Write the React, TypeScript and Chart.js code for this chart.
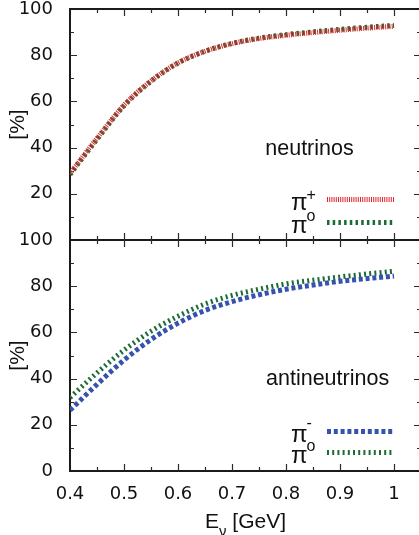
import { useEffect, useRef } from 'react';
import { Chart, registerables } from 'chart.js';

Chart.register(...registerables);

// ---- data ----
const energies = [0.4, 0.45, 0.5, 0.55, 0.6, 0.65, 0.7, 0.75, 0.8, 0.85, 0.9, 0.95, 1.0];
const nuPiPlus = [28.9, 44, 58.4, 68.9, 76.7, 81.7, 85, 87.2, 88.6, 89.8, 90.8, 91.7, 92.5];
const nuPiZero = [28.4, 43.6, 58.1, 68.7, 76.6, 81.7, 85.1, 87.4, 88.9, 90.1, 91.2, 92.1, 92.9];
const antiPiMinus = [26.3, 37.5, 48, 56.9, 64, 69.5, 73.3, 76.3, 78.7, 80.5, 82.1, 83.3, 84.4];
const antiPiZero = [31.8, 42.5, 52.3, 60.5, 67, 72.3, 76, 78.7, 81, 82.6, 84, 85.3, 86.5];

const xTickValues = [0.4, 0.5, 0.6, 0.7, 0.8, 0.9, 1.0];
const xTickLabels = ['0.4', '0.5', '0.6', '0.7', '0.8', '0.9', '1'];
const xMinorTicks = [0.45, 0.55, 0.65, 0.75, 0.85, 0.95];
const yTickValues = [0, 20, 40, 60, 80, 100];
const yTickLabels = ['0', '20', '40', '60', '80', '100'];
const yMinorTicks = [10, 30, 50, 70, 90];

const panelNames = ['neutrinos', 'antineutrinos'];
const seriesSymbol = ['π', 'π', 'π', 'π'];
const seriesSup = ['+', 'o', '-', 'o'];

const TEXT_FONT = 'Liberation Sans, Arial, sans-serif';
const TICK_FONT = 'DejaVu Sans, sans-serif';

const toPoints = (ys: number[]) => energies.map((x, i) => ({ x, y: ys[i] }));

const framePlugin = {
  id: 'frame',
  beforeDatasetsDraw(chart: any) {
    const { ctx, chartArea } = chart;
    const xs = chart.scales.x;
    const panels = [chart.scales.yTop, chart.scales.yBot];
    const L = chartArea.left;
    const R = chartArea.right;
    ctx.save();
    ctx.strokeStyle = '#1a1a1a';
    ctx.lineWidth = 2;
    ctx.beginPath();
    ctx.moveTo(L, chartArea.top - 1);
    ctx.lineTo(L, chartArea.bottom + 1);
    const hys = [panels[0].top, panels[0].bottom, panels[1].bottom];
    for (const y of hys) {
      ctx.moveTo(L - 1, y);
      ctx.lineTo(R, y);
    }
    ctx.stroke();

    ctx.lineWidth = 1.2;
    ctx.strokeStyle = '#2a2a2a';
    ctx.beginPath();
    const hLines = [
      { y: panels[0].top, dirs: [1] },
      { y: panels[0].bottom, dirs: [-1, 1] },
      { y: panels[1].bottom, dirs: [-1] },
    ];
    const xt = (v: number, len: number) => {
      const px = Math.round(xs.getPixelForValue(v)) + 0.5;
      for (const h of hLines) {
        for (const d of h.dirs) {
          ctx.moveTo(px, h.y);
          ctx.lineTo(px, h.y + d * len);
        }
      }
    };
    xTickValues.forEach((v) => { if (v > xs.min) xt(v, 7); });
    xMinorTicks.forEach((v) => xt(v, 4));

    for (const p of panels) {
      const yt = (v: number, len: number) => {
        const py = Math.round(p.getPixelForValue(v)) + 0.5;
        ctx.moveTo(L, py);
        ctx.lineTo(L + len, py);
        ctx.moveTo(R, py);
        ctx.lineTo(R - len, py);
      };
      yTickValues.forEach((v) => { if (v > 0 && v < 100) yt(v, 7); });
      yMinorTicks.forEach((v) => yt(v, 4));
    }
    ctx.stroke();
    ctx.restore();
  },
  afterDraw(chart: any) {
    const { ctx, chartArea } = chart;
    const xs = chart.scales.x;
    const panels = [chart.scales.yTop, chart.scales.yBot];
    ctx.save();
    ctx.fillStyle = '#111';

    // panel names
    const namePos = [
      { x: 0.8435, y: 36.8 },
      { x: 0.877, y: 37.2 },
    ];
    ctx.font = `21.5px ${TEXT_FONT}`;
    ctx.textAlign = 'center';
    ctx.textBaseline = 'alphabetic';
    panelNames.forEach((name, i) => {
      ctx.fillText(name, xs.getPixelForValue(namePos[i].x), panels[i].getPixelForValue(namePos[i].y));
    });

    // legends
    const legendRows = [
      { ds: 0, panel: 0, y: 17.6, supDy: 0 },
      { ds: 1, panel: 0, y: 7.9, supDy: -2 },
      { ds: 2, panel: 1, y: 17.4, supDy: -4 },
      { ds: 3, panel: 1, y: 8.1, supDy: -2 },
    ];
    const x0 = Math.round(xs.getPixelForValue(0.875));
    const x1 = Math.round(xs.getPixelForValue(1.0));
    legendRows.forEach((row) => {
      const ds = chart.data.datasets[row.ds];
      const ly = Math.round(panels[row.panel].getPixelForValue(row.y)) + 0.5;
      ctx.save();
      ctx.strokeStyle = ds.borderColor;
      ctx.lineWidth = ds.borderWidth;
      ctx.setLineDash(ds.borderDash || []);
      ctx.lineCap = 'butt';
      ctx.beginPath();
      ctx.moveTo(x0, ly);
      ctx.lineTo(x1, ly);
      ctx.stroke();
      ctx.restore();

      ctx.textAlign = 'left';
      ctx.textBaseline = 'alphabetic';
      ctx.font = `24px ${TEXT_FONT}`;
      const sx = 291;
      ctx.fillText(seriesSymbol[row.ds], sx, ly + 10);
      const w = ctx.measureText(seriesSymbol[row.ds]).width;
      ctx.font = `16px ${TEXT_FONT}`;
      ctx.fillText(seriesSup[row.ds], sx + w - 1, ly + row.supDy);
    });

    // x title: E_nu [GeV]
    const cx = (chartArea.left + chartArea.right) / 2;
    const base = 528;
    ctx.font = `21px ${TEXT_FONT}`;
    const wE = ctx.measureText('E').width;
    const wRest = ctx.measureText(' [GeV]').width;
    ctx.font = `15px ${TEXT_FONT}`;
    const wNu = ctx.measureText('ν').width;
    let sx = cx - (wE + wNu + wRest) / 2;
    ctx.textAlign = 'left';
    ctx.font = `21px ${TEXT_FONT}`;
    ctx.fillText('E', sx, base);
    sx += wE;
    ctx.font = `15px ${TEXT_FONT}`;
    ctx.fillText('ν', sx, base + 8);
    sx += wNu;
    ctx.font = `21px ${TEXT_FONT}`;
    ctx.fillText(' [GeV]', sx, base);
    ctx.restore();
  },
};

function yScale(isTop: boolean) {
  return {
    type: 'linear',
    position: 'left',
    stack: 'panels',
    stackWeight: 1,
    min: 0,
    max: 100,
    grid: { display: false, drawTicks: false },
    border: { display: false },
    afterBuildTicks: (s: any) => {
      s.ticks = yTickValues.map((v) => ({ value: v }));
    },
    afterFit: (s: any) => {
      s.width = 70;
      s.paddingTop = 0;
      s.paddingBottom = 0;
    },
    ticks: {
      autoSkip: false,
      padding: 17,
      color: '#111',
      font: { family: TICK_FONT, size: 18 },
      callback: (_v: any, i: number) => (isTop && i === 0 ? '' : yTickLabels[i]),
    },
    title: {
      display: true,
      text: '[%]',
      color: '#111',
      font: { family: TEXT_FONT, size: 21 },
      padding: { top: 6, bottom: 0 },
    },
  };
}

export default function App() {
  const canvasRef = useRef<HTMLCanvasElement | null>(null);

  useEffect(() => {
    const canvas = canvasRef.current;
    if (!canvas) return;
    const chart = new Chart(canvas, {
      type: 'line',
      data: {
        datasets: [
          {
            label: 'π+',
            data: toPoints(nuPiPlus),
            yAxisID: 'yTop',
            borderColor: '#e3262c',
            borderWidth: 5,
            borderDash: [1, 1.2],
            pointRadius: 0,
            cubicInterpolationMode: 'monotone',
            fill: false,
          },
          {
            label: 'π0',
            data: toPoints(nuPiZero),
            yAxisID: 'yTop',
            borderColor: '#1c6a35',
            borderWidth: 5,
            borderDash: [2.5, 3.2],
            pointRadius: 0,
            cubicInterpolationMode: 'monotone',
            fill: false,
          },
          {
            label: 'π-',
            data: toPoints(antiPiMinus),
            yAxisID: 'yBot',
            borderColor: '#3552b0',
            borderWidth: 5,
            borderDash: [4, 2.8],
            pointRadius: 0,
            cubicInterpolationMode: 'monotone',
            fill: false,
          },
          {
            label: 'π0',
            data: toPoints(antiPiZero),
            yAxisID: 'yBot',
            borderColor: '#1c6a35',
            borderWidth: 5,
            borderDash: [2, 3.2],
            pointRadius: 0,
            cubicInterpolationMode: 'monotone',
            fill: false,
          },
        ],
      },
      options: {
        responsive: false,
        animation: false,
        devicePixelRatio: 1,
        events: [],
        layout: { padding: { top: 9, left: 0, right: 0, bottom: 0 } },
        plugins: {
          legend: { display: false },
          tooltip: { enabled: false },
        },
        scales: {
          x: {
            type: 'linear',
            position: 'bottom',
            min: 0.4,
            max: 1.05,
            grid: { display: false, drawTicks: false },
            border: { display: false },
            afterBuildTicks: (s: any) => {
              s.ticks = xTickValues.map((v) => ({ value: v }));
            },
            afterFit: (s: any) => {
              s.height = 64;
              s.paddingLeft = 0;
              s.paddingRight = 0;
            },
            ticks: {
              autoSkip: false,
              maxRotation: 0,
              padding: 13,
              color: '#111',
              font: { family: TICK_FONT, size: 18 },
              callback: (_v: any, i: number) => xTickLabels[i],
            },
          },
          yBot: yScale(false),
          yTop: yScale(true),
        } as any,
      },
      plugins: [framePlugin],
    } as any);
    return () => chart.destroy();
  }, []);

  return (
    <div
      style={{
        position: 'absolute',
        left: 0,
        top: 0,
        width: 419,
        height: 535,
        overflow: 'hidden',
        background: '#fff',
      }}
    >
      <canvas ref={canvasRef} width={421} height={535} style={{ display: 'block' }} />
    </div>
  );
}
